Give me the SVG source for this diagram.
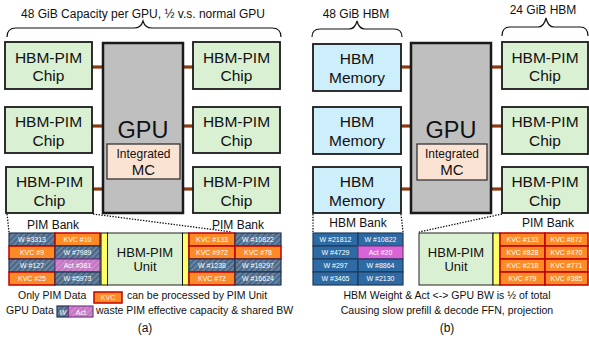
<svg xmlns="http://www.w3.org/2000/svg" width="589" height="339" viewBox="0 0 589 339">
<style>
text{font-family:"Liberation Sans",Arial,sans-serif;fill:#111}
.t12{font-size:12px}
.chip{fill:#daf0d2;stroke:#1a1a1a;stroke-width:1.8}
.hbm{fill:#cdeefb;stroke:#1a1a1a;stroke-width:1.8}
.gpu{fill:#bfbfbf;stroke:#1a1a1a;stroke-width:2.5}
.mc{fill:#fbe3d4;stroke:#333;stroke-width:1.3}
.ct{font-size:15.5px;text-anchor:middle}
.lnk{stroke:#8b3a0e;stroke-width:3.2}
.dot{stroke:#111;stroke-width:1.3;stroke-dasharray:1.4 1.4;fill:none}
.brace{fill:none;stroke:#111;stroke-width:1.2}
.kvc{fill:#fd8a24;stroke:#c00000;stroke-width:1.5}
.w{fill:url(#hatchW);stroke:#1f3552;stroke-width:1.2}
.act{fill:url(#hatchA);stroke:#7a3a8a;stroke-width:1.2}
.wb{fill:#2e6aa3;stroke:#1e3b5c;stroke-width:1.2}
.ab{fill:#d864d6;stroke:#7a3a8a;stroke-width:1.2}
.cell{font-size:7px;fill:#fff;text-anchor:middle}
.yel{fill:#ffff66;stroke:#111;stroke-width:1}
.unit{fill:#daf0d2;stroke:#222;stroke-width:1}
.ut{font-size:13px;text-anchor:middle}
.lg{font-size:10.5px}
</style>
<defs>
<pattern id="hatchW" width="4" height="4" patternUnits="userSpaceOnUse" patternTransform="rotate(45)">
<rect width="4" height="4" fill="#7d7f84"/>
<rect width="1.8" height="4" fill="#2f6aa6"/>
</pattern>
<pattern id="hatchA" width="4" height="4" patternUnits="userSpaceOnUse" patternTransform="rotate(45)">
<rect width="4" height="4" fill="#b99ab9"/>
<rect width="1.8" height="4" fill="#d862d6"/>
</pattern>
</defs>
<rect width="589" height="339" fill="#fff"/>

<!-- top labels and braces -->
<g id="labels-top">
<text class="t12" x="143" y="18" text-anchor="middle">48 GiB Capacity per GPU, ½ v.s. normal GPU</text>
<path class="brace" d="M7,37 Q7,28 16,28 L134,28 Q141,28 143,21 Q145,28 152,28 L272,28 Q281,28 281,37"/>
<text class="t12" x="356" y="18" text-anchor="middle">48 GiB HBM</text>
<path class="brace" d="M312,37 Q312,29 320,29 L349,29 Q355,29 357,21 Q359,29 365,29 L394,29 Q402,29 402,37"/>
<text class="t12" x="543" y="14" text-anchor="middle">24 GiB HBM</text>
<path class="brace" d="M502,36 Q502,27 510,27 L538,27 Q544,27 546,18 Q548,27 554,27 L580,27 Q588,27 588,36"/>
</g>

<!-- connectors -->
<g id="connectors">
<line class="lnk" x1="92" y1="67" x2="103" y2="67"/>
<line class="lnk" x1="92" y1="126" x2="103" y2="126"/>
<line class="lnk" x1="92" y1="189" x2="103" y2="189"/>
<line class="lnk" x1="183" y1="67" x2="193" y2="67"/>
<line class="lnk" x1="183" y1="126" x2="193" y2="126"/>
<line class="lnk" x1="183" y1="189" x2="193" y2="189"/>
<line class="lnk" x1="401" y1="67" x2="411" y2="67"/>
<line class="lnk" x1="401" y1="126" x2="411" y2="126"/>
<line class="lnk" x1="401" y1="189" x2="411" y2="189"/>
<line class="lnk" x1="491" y1="67" x2="502" y2="67"/>
<line class="lnk" x1="491" y1="126" x2="502" y2="126"/>
<line class="lnk" x1="491" y1="189" x2="502" y2="189"/>
<line class="dot" x1="7" y1="214" x2="9" y2="232"/>
<line class="dot" x1="93" y1="214" x2="232" y2="232"/>
<line class="dot" x1="313" y1="214" x2="313" y2="232"/>
<line class="dot" x1="401" y1="214" x2="403" y2="232"/>
<line class="dot" x1="502" y1="214" x2="419" y2="232"/>
</g>

<!-- panel (a) -->
<g id="a-chip-l1"><rect class="chip" x="5" y="42" width="87" height="47"/><text class="ct" x="48.5" y="62.5">HBM-PIM</text><text class="ct" x="48.5" y="81">Chip</text></g>
<g id="a-chip-l2"><rect class="chip" x="5" y="107" width="87" height="46"/><text class="ct" x="48.5" y="127">HBM-PIM</text><text class="ct" x="48.5" y="145.5">Chip</text></g>
<g id="a-chip-l3"><rect class="chip" x="6" y="167" width="87" height="46"/><text class="ct" x="49.5" y="187">HBM-PIM</text><text class="ct" x="49.5" y="205.5">Chip</text></g>
<g id="a-chip-r1"><rect class="chip" x="193" y="42" width="87" height="47"/><text class="ct" x="236.5" y="62.5">HBM-PIM</text><text class="ct" x="236.5" y="81">Chip</text></g>
<g id="a-chip-r2"><rect class="chip" x="193" y="107" width="87" height="46"/><text class="ct" x="236.5" y="127">HBM-PIM</text><text class="ct" x="236.5" y="145.5">Chip</text></g>
<g id="a-chip-r3"><rect class="chip" x="193" y="167" width="87" height="46"/><text class="ct" x="236.5" y="187">HBM-PIM</text><text class="ct" x="236.5" y="205.5">Chip</text></g>
<g id="a-gpu">
<rect class="gpu" x="103" y="43" width="80" height="170"/>
<text x="143" y="138" font-size="23.5" text-anchor="middle">GPU</text>
<rect class="mc" x="107" y="144" width="73" height="35"/>
<text x="143.5" y="158" font-size="12" text-anchor="middle">Integrated</text>
<text x="143.5" y="175" font-size="15" text-anchor="middle">MC</text>
</g>
<g id="a-bank-left">
<text class="t12" x="53" y="228.5" text-anchor="middle">PIM Bank</text>
<rect class="w" x="9" y="233" width="46" height="13"/><text class="cell" x="32" y="242">W #3313</text>
<rect class="kvc" x="55" y="233" width="45" height="13"/><text class="cell" x="77.5" y="242">KVC #10</text>
<rect class="kvc" x="9" y="246" width="46" height="13"/><text class="cell" x="32" y="255">KVC #9</text>
<rect class="w" x="55" y="246" width="45" height="13"/><text class="cell" x="77.5" y="255">W #7989</text>
<rect class="w" x="9" y="259" width="46" height="13"/><text class="cell" x="32" y="268">W #127</text>
<rect class="act" x="55" y="259" width="45" height="13"/><text class="cell" x="77.5" y="268">Act #381</text>
<rect class="kvc" x="9" y="272" width="46" height="13"/><text class="cell" x="32" y="281">KVC #25</text>
<rect class="w" x="55" y="272" width="45" height="13"/><text class="cell" x="77.5" y="281">W #5973</text>
</g>
<g id="a-unit">
<rect class="yel" x="101" y="233" width="6.5" height="52"/>
<rect class="unit" x="107.5" y="233" width="75" height="52"/>
<text class="ut" x="145" y="257">HBM-PIM</text>
<text class="ut" x="145" y="271">Unit</text>
<rect class="yel" x="182.5" y="233" width="6.5" height="52"/>
</g>
<g id="a-bank-right">
<text class="t12" x="238" y="228.5" text-anchor="middle">PIM Bank</text>
<rect class="kvc" x="189" y="233" width="46" height="13"/><text class="cell" x="212" y="242">KVC #133</text>
<rect class="w" x="235" y="233" width="46" height="13"/><text class="cell" x="258" y="242">W #10822</text>
<rect class="kvc" x="189" y="246" width="46" height="13"/><text class="cell" x="212" y="255">KVC #972</text>
<rect class="kvc" x="235" y="246" width="46" height="13"/><text class="cell" x="258" y="255">KVC #78</text>
<rect class="w" x="189" y="259" width="46" height="13"/><text class="cell" x="212" y="268">W #1238</text>
<rect class="w" x="235" y="259" width="46" height="13"/><text class="cell" x="258" y="268">W #19297</text>
<rect class="kvc" x="189" y="272" width="46" height="13"/><text class="cell" x="212" y="281">KVC #72</text>
<rect class="w" x="235" y="272" width="46" height="13"/><text class="cell" x="258" y="281">W #16624</text>
</g>
<g id="a-legend">
<text class="lg" x="18" y="299">Only PIM Data</text>
<rect class="kvc" x="94" y="292" width="28" height="11"/><text class="cell" x="108" y="300">KVC</text>
<text class="lg" x="127" y="299">can be processed by PIM Unit</text>
<text class="lg" x="6" y="313.5">GPU Data</text>
<rect class="w" x="57" y="306" width="11.5" height="11"/><text class="cell" x="62.8" y="314.5" font-style="italic">W</text>
<rect class="act" x="68.5" y="306" width="24.5" height="11"/><text class="cell" x="80.8" y="314.5">Act</text>
<text class="lg" x="96" y="313.5">waste PIM effective capacity &amp; shared BW</text>
<text x="145" y="331.5" font-size="12" text-anchor="middle">(a)</text>
</g>

<!-- panel (b) -->
<g id="b-hbm-1"><rect class="hbm" x="313" y="44" width="88" height="47"/><text class="ct" x="357" y="64">HBM</text><text class="ct" x="357" y="83">Memory</text></g>
<g id="b-hbm-2"><rect class="hbm" x="313" y="107" width="88" height="47"/><text class="ct" x="357" y="127">HBM</text><text class="ct" x="357" y="146">Memory</text></g>
<g id="b-hbm-3"><rect class="hbm" x="313" y="167" width="88" height="46"/><text class="ct" x="357" y="187">HBM</text><text class="ct" x="357" y="206">Memory</text></g>
<g id="b-chip-1"><rect class="chip" x="502" y="42" width="86" height="47"/><text class="ct" x="545" y="62.5">HBM-PIM</text><text class="ct" x="545" y="81">Chip</text></g>
<g id="b-chip-2"><rect class="chip" x="502" y="107" width="86" height="47"/><text class="ct" x="545" y="127">HBM-PIM</text><text class="ct" x="545" y="146">Chip</text></g>
<g id="b-chip-3"><rect class="chip" x="502" y="167" width="86" height="46"/><text class="ct" x="545" y="187">HBM-PIM</text><text class="ct" x="545" y="205.5">Chip</text></g>
<g id="b-gpu">
<rect class="gpu" x="411" y="43" width="80" height="170"/>
<text x="451" y="138" font-size="23.5" text-anchor="middle">GPU</text>
<rect class="mc" x="417" y="144" width="70" height="36"/>
<text x="452" y="158" font-size="12" text-anchor="middle">Integrated</text>
<text x="452" y="175" font-size="15" text-anchor="middle">MC</text>
</g>
<g id="b-hbm-bank">
<text class="t12" x="358" y="227" text-anchor="middle">HBM Bank</text>
<rect class="wb" x="313" y="233" width="45" height="13"/><text class="cell" x="335.5" y="242">W #21812</text>
<rect class="wb" x="358" y="233" width="45" height="13"/><text class="cell" x="380.5" y="242">W #10822</text>
<rect class="wb" x="313" y="246" width="45" height="13"/><text class="cell" x="335.5" y="255">W #4729</text>
<rect class="ab" x="358" y="246" width="45" height="13"/><text class="cell" x="380.5" y="255">Act #20</text>
<rect class="wb" x="313" y="259" width="45" height="13"/><text class="cell" x="335.5" y="268">W #297</text>
<rect class="wb" x="358" y="259" width="45" height="13"/><text class="cell" x="380.5" y="268">W #8864</text>
<rect class="wb" x="313" y="272" width="45" height="13"/><text class="cell" x="335.5" y="281">W #3465</text>
<rect class="wb" x="358" y="272" width="45" height="13"/><text class="cell" x="380.5" y="281">W #2130</text>
</g>
<g id="b-unit">
<rect class="unit" x="419" y="233" width="74" height="52"/>
<text class="ut" x="456" y="257">HBM-PIM</text>
<text class="ut" x="456" y="271">Unit</text>
<rect class="yel" x="493" y="233" width="7" height="52"/>
</g>
<g id="b-pim-bank">
<text class="t12" x="548" y="227" text-anchor="middle">PIM Bank</text>
<rect class="kvc" x="500" y="233" width="45" height="13"/><text class="cell" x="522.5" y="242">KVC #133</text>
<rect class="kvc" x="545" y="233" width="43" height="13"/><text class="cell" x="566.5" y="242">KVC #872</text>
<rect class="kvc" x="500" y="246" width="45" height="13"/><text class="cell" x="522.5" y="255">KVC #828</text>
<rect class="kvc" x="545" y="246" width="43" height="13"/><text class="cell" x="566.5" y="255">KVC #470</text>
<rect class="kvc" x="500" y="259" width="45" height="13"/><text class="cell" x="522.5" y="268">KVC #218</text>
<rect class="kvc" x="545" y="259" width="43" height="13"/><text class="cell" x="566.5" y="268">KVC #771</text>
<rect class="kvc" x="500" y="272" width="45" height="13"/><text class="cell" x="522.5" y="281">KVC #79</text>
<rect class="kvc" x="545" y="272" width="43" height="13"/><text class="cell" x="566.5" y="281">KVC #385</text>
</g>
<g id="b-caption">
<text class="lg" x="447" y="299" text-anchor="middle">HBM Weight &amp; Act &lt;-&gt; GPU BW is ½ of total</text>
<text class="lg" x="447" y="313.5" text-anchor="middle">Causing slow prefill &amp; decode FFN, projection</text>
<text x="447" y="331.5" font-size="12" text-anchor="middle">(b)</text>
</g>
</svg>
